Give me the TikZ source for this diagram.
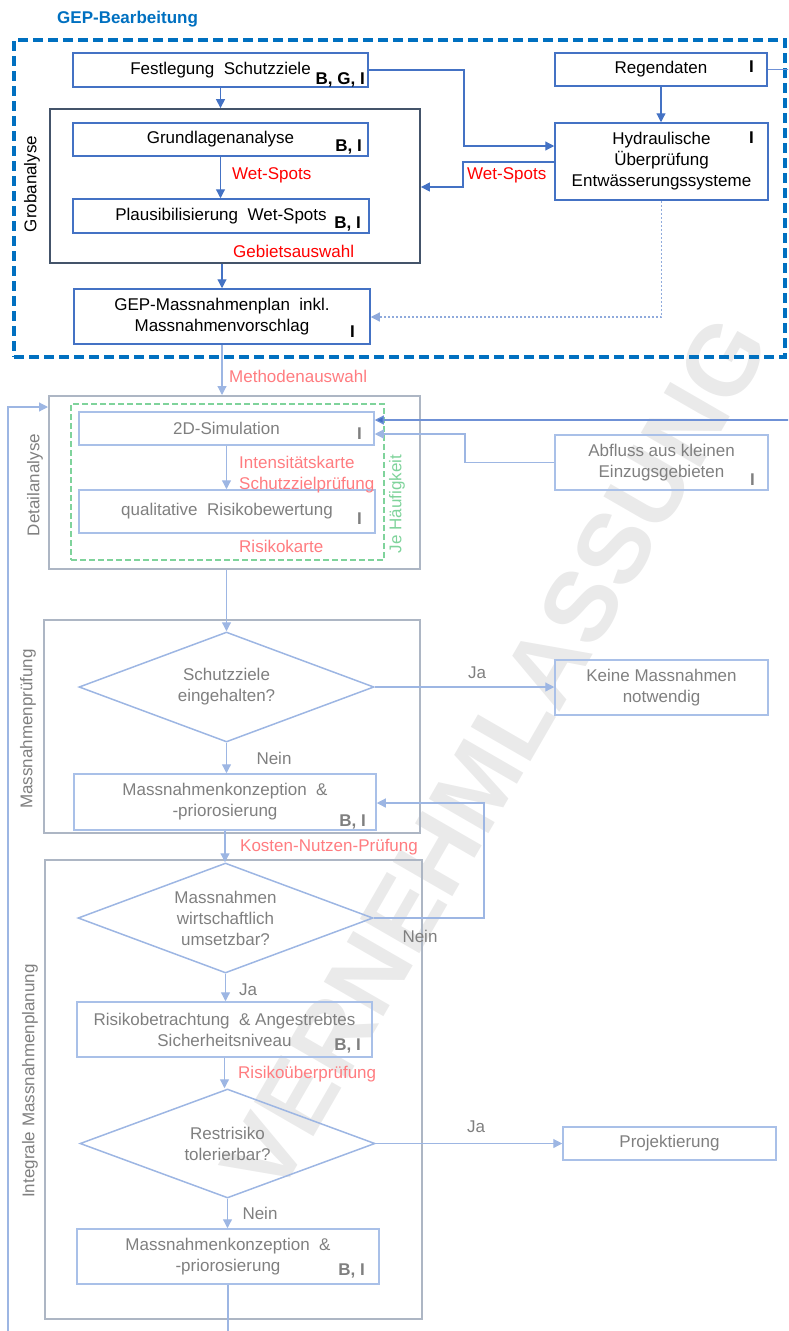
\documentclass[tikz,border=0pt]{standalone}
\usepackage{fontspec}
\setmainfont{Liberation Sans}
\usetikzlibrary{arrows.meta,shapes.geometric}
\definecolor{topblue}{HTML}{4472C4}
\definecolor{gepblue}{HTML}{0070C0}
\definecolor{grobgray}{HTML}{44546A}
\definecolor{lowblue}{HTML}{A9C0E8}
\definecolor{lowline}{HTML}{9DB6E3}
\definecolor{grpgray}{HTML}{ADB6C4}
\definecolor{txtgray}{HTML}{7F7F7F}
\definecolor{lightred}{HTML}{FF7C80}
\definecolor{jegreen}{HTML}{7FD39B}
\definecolor{wmgray}{HTML}{EAEAEA}
\definecolor{midblue}{HTML}{6F91D6}
\definecolor{dotblue}{HTML}{8FAADC}
\begin{document}
\begin{tikzpicture}[x=1pt,y=-1pt,
  every node/.style={font=\fontsize{17}{21}\selectfont, inner sep=0pt},
  tbox/.style={draw=topblue, line width=1.5pt, text=black, align=center},
  lbox/.style={draw=lowblue, line width=1.5pt, text=txtgray, align=center},
  dia/.style={diamond, aspect=2.6, draw=lowline, line width=1.5pt, text=txtgray, align=center},
  grpT/.style={draw=grobgray, line width=1.8pt},
  grpL/.style={draw=grpgray, line width=2pt},
  tagT/.style={font=\bfseries\fontsize{17}{21}\selectfont, text=black, anchor=base east},
  tagL/.style={font=\bfseries\fontsize{17}{21}\selectfont, text=txtgray, anchor=base east},
  redT/.style={text=red, anchor=west},
  redL/.style={text=lightred, anchor=west},
  grayt/.style={text=txtgray},
  arrT/.style={draw=topblue, line width=1.2pt, -{Triangle[length=9pt,width=9pt]}},
  arrL/.style={draw=lowline, line width=1.2pt, -{Triangle[length=9pt,width=9pt]}},
  arrM/.style={draw=midblue, line width=1.2pt, -{Triangle[length=9pt,width=9pt,fill=topblue]}},
  arrDot/.style={draw=dotblue, line width=1.2pt, dash pattern=on 2pt off 2pt, -{Triangle[length=9pt,width=9pt]}}
]
\useasboundingbox (0,0) rectangle (788,1331);
\clip (0,0) rectangle (788,1331);

% watermark
\node[font=\bfseries\fontsize{100}{100}\selectfont, text=wmgray, rotate=60] (wm) at (495,755) {VERNEHMLASSUNG};

% ---------- top section ----------
\node[text=gepblue, font=\bfseries\fontsize{17}{21}\selectfont, anchor=west] (title) at (57,19) {GEP-Bearbeitung};
\node[draw=gepblue, line width=4pt, dash pattern=on 10pt off 5pt, minimum width=771pt, minimum height=317pt] (outer) at (399.5,198.5) {};

\node[grpT, minimum width=370pt, minimum height=154pt] (grob) at (235,186) {};
\node[rotate=90, text=black] (grobt) at (32,184) {Grobanalyse};

\node[tbox, minimum width=295pt, minimum height=34pt] (fest) at (220.5,70) {Festlegung~ Schutzziele};
\node[tagT] (festtag) at (365,84) {B, G, I};
\node[tbox, minimum width=295pt, minimum height=33pt] (grund) at (220.5,139.5) {Grundlagenanalyse};
\node[tagT] (grundtag) at (362,151) {B, I};
\node[tbox, minimum width=296pt, minimum height=34pt] (plaus) at (221,216) {Plausibilisierung~ Wet-Spots};
\node[tagT] (plaustag) at (361,228) {B, I};
\node[tbox, minimum width=296pt, minimum height=55pt] (gep) at (222,316.5) {GEP-Massnahmenplan~ inkl.\\Massnahmenvorschlag};
\node[tagT] (geptag) at (355,337) {I};
\node[tbox, minimum width=212pt, minimum height=33pt] (regen) at (661,69.5) {Regendaten};
\node[tagT] (regentag) at (754,72) {I};
\node[tbox, minimum width=213pt, minimum height=77pt] (hydr) at (661.5,161.5) {Hydraulische\\Überprüfung\\Entwässerungssysteme};
\node[tagT] (hydrtag) at (754,143) {I};

\node[redT] (ws1) at (232,175) {Wet-Spots};
\node[redT] (gebiet) at (233,251) {Gebietsauswahl};
\node[redT] (ws2) at (467,175) {Wet-Spots};

\draw[arrT] (fest.south) -- (fest.south |- grob.north);
\draw[arrT] (grund.south) -- (grund.south |- plaus.north);
\draw[arrT] (gep.north |- grob.south) -- (gep.north);
\draw[arrT] (regen.south) -- (regen.south |- hydr.north);
\coordinate (fh) at (464,146);
\draw[arrT] (fest.east) -| (fh) -- (fh -| hydr.west);
\coordinate (hg1) at (463,162);
\coordinate (hg2) at (463,187);
\draw[arrT] (hg1 -| hydr.west) -- (hg1) -- (hg2) -- (hg2 -| grob.east);
\coordinate (hd) at (661.5,317);
\draw[arrDot] (hydr.south) -- (hd) -- (hd -| gep.east);

% ---------- Detailanalyse ----------
\node[redL] (meth) at (229,376) {Methodenauswahl};
\node[grpL, minimum width=371pt, minimum height=173pt] (detail) at (234.5,482.5) {};
\node[rotate=90, grayt] (detailt) at (35,485) {Detailanalyse};
\node[draw=jegreen, line width=1.3pt, dash pattern=on 6pt off 3pt, minimum width=313pt, minimum height=156pt] (green) at (227.5,482) {};
\node[rotate=90, text=jegreen] (jeh) at (397,504) {Je Häufigkeit};
\node[lbox, minimum width=295pt, minimum height=33pt] (sim) at (226.5,428.5) {2D-Simulation};
\node[tagL] (simtag) at (362,439) {I};
\node[lbox, minimum width=296pt, minimum height=43pt] (qual) at (227,511.5) {qualitative~ Risikobewertung};
\node[tagL] (qualtag) at (362,524) {I};
\node[redL, align=left] (intens) at (239,474.5) {Intensitätskarte\\Schutzzielprüfung};
\node[redL] (rkarte) at (239,546) {Risikokarte};
\node[lbox, minimum width=213pt, minimum height=55pt] (abfl) at (661.5,462.5) {Abfluss aus kleinen\\Einzugsgebieten};
\node[tagL] (abfltag) at (755,485) {I};

\draw[arrL] (gep.south) -- (gep.south |- detail.north);
\draw[arrL] (sim.south) -- (sim.south |- qual.north);
\coordinate (rs) at (800,420);
\draw[arrM] (regen.east) -| (rs) -- (rs -| sim.east);
\coordinate (as1) at (465,462.5);
\coordinate (as2) at (465,434);
\draw[arrL] (abfl.west) -- (as1) -- (as2) -- (as2 -| sim.east);

% ---------- Massnahmenpruefung ----------
\node[grpL, minimum width=376pt, minimum height=213pt] (mpruef) at (232,726.5) {};
\node[rotate=90, grayt] (mprueft) at (28,729) {Massnahmenprüfung};
\node[dia, minimum width=295pt, minimum height=110pt] (d1) at (226.5,687) {Schutzziele\\eingehalten?};
\node[lbox, minimum width=213pt, minimum height=55pt] (keine) at (661.5,687.5) {Keine Massnahmen\\notwendig};
\node[lbox, minimum width=302pt, minimum height=56pt] (mk1) at (225,802) {Massnahmenkonzeption~ \&\\-priorosierung};
\node[tagL] (mk1tag) at (366,826) {B, I};
\node[grayt] (ja1) at (477,673) {Ja};
\node[grayt] (nein1) at (274,758) {Nein};

\draw[arrL] (d1.north |- detail.south) -- (d1.north);
\draw[arrL] (d1.east) -- (d1.east -| keine.west);
\draw[arrL] (d1.south) -- (d1.south |- mk1.north);

% ---------- Integrale Massnahmenplanung ----------
\node[redL] (kosten) at (240,847) {Kosten-Nutzen-Prüfung};
\node[grpL, minimum width=377pt, minimum height=459pt] (integ) at (233.5,1089.5) {};
\node[rotate=90, grayt] (integt) at (30,1081) {Integrale Massnahmenplanung};
\node[dia, minimum width=295pt, minimum height=110pt] (d2) at (225.5,918) {Massnahmen\\wirtschaftlich\\umsetzbar?};
\node[lbox, minimum width=295pt, minimum height=55pt] (risiko) at (224.5,1029.5) {Risikobetrachtung~ \& Angestrebtes\\Sicherheitsniveau};
\node[tagL] (risikotag) at (361,1050) {B, I};
\node[redL] (rueber) at (238,1074) {Risikoüberprüfung};
\node[dia, minimum width=295pt, minimum height=109pt] (d3) at (227.5,1143.5) {Restrisiko\\tolerierbar?};
\node[lbox, minimum width=213pt, minimum height=33pt] (proj) at (669.5,1143.5) {Projektierung};
\node[lbox, minimum width=302pt, minimum height=55pt] (mk2) at (228,1256.5) {Massnahmenkonzeption~ \&\\-priorosierung};
\node[tagL] (mk2tag) at (365,1275) {B, I};
\node[grayt] (nein2) at (420,936) {Nein};
\node[grayt] (ja2) at (248,990) {Ja};
\node[grayt] (ja3) at (476,1127) {Ja};
\node[grayt] (nein3) at (260,1213) {Nein};

\draw[arrL] (mk1.south) -- (mk1.south |- d2.north);
\coordinate (dn) at (484,803);
\draw[arrL] (d2.east) -| (dn) -- (dn -| mk1.east);
\draw[arrL] (d2.south) -- (d2.south |- risiko.north);
\draw[arrL] (risiko.south) -- (risiko.south |- d3.north);
\draw[arrL] (d3.east) -- (d3.east -| proj.west);
\draw[arrL] (d3.south) -- (d3.south |- mk2.north);
\coordinate (lp1) at (228,1350);
\coordinate (lp2) at (8,1350);
\coordinate (lp3) at (8,407);
\draw[arrL] (mk2.south) -- (lp1) -- (lp2) -- (lp3) -- (lp3 -| detail.west);
\end{tikzpicture}
\end{document}
